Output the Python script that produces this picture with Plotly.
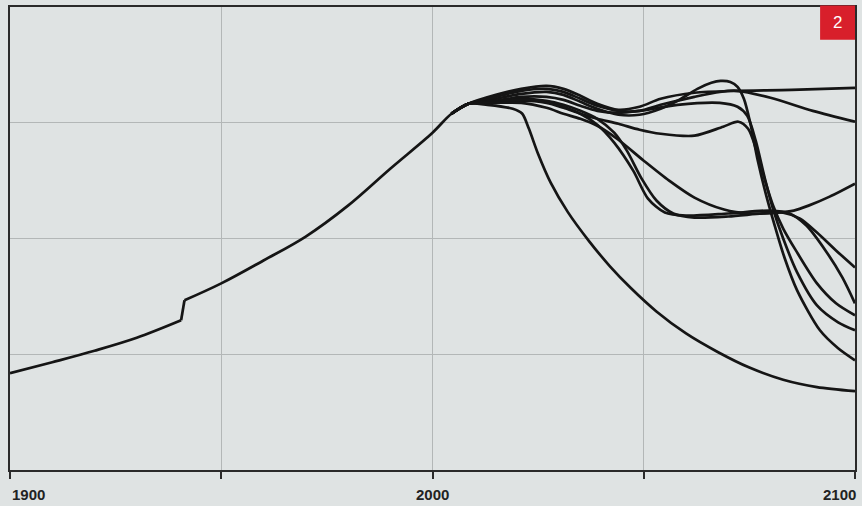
import plotly.graph_objects as go

# Shared history (two pieces around the step near 1941)
trunk_early_years = [1900, 1910, 1920, 1930, 1940.5]
trunk_early_vals = [0.836, 0.931, 1.030, 1.142, 1.293]
trunk_late_years = [1941.3, 1950, 1960, 1970, 1980, 1990, 2000, 2004.5, 2008.5]
trunk_late_vals = [1.466, 1.612, 1.810, 2.017, 2.284, 2.603, 2.914, 3.078, 3.164]

# Scenario branches (after 2008)
a_years = [2015, 2021, 2027, 2031, 2035, 2039, 2044, 2049, 2054, 2062, 2072, 2085, 2100]
a_vals = [3.241, 3.293, 3.319, 3.293, 3.233, 3.164, 3.112, 3.138, 3.207, 3.259, 3.276, 3.284, 3.302]

b_years = [2015, 2021, 2027, 2031, 2035, 2039, 2044, 2049, 2054, 2058, 2062.7, 2066, 2068.2, 2070.5,
           2072.2, 2073.7, 2075.2, 2077, 2079, 2081, 2083.3, 2086.3, 2091.7, 2096, 2100]
b_vals = [3.207, 3.250, 3.267, 3.241, 3.181, 3.121, 3.069, 3.069, 3.121, 3.190, 3.293, 3.345, 3.362, 3.353,
          3.310, 3.207, 3.000, 2.672, 2.371, 2.112, 1.836, 1.552, 1.207, 1.052, 0.948]

c_years = [2015, 2021, 2027, 2031, 2035, 2039, 2044, 2049, 2054, 2062, 2068, 2072, 2080, 2090, 2100]
c_vals = [3.224, 3.276, 3.293, 3.267, 3.207, 3.147, 3.103, 3.103, 3.155, 3.224, 3.267, 3.276, 3.216, 3.103, 3.009]

d_years = [2015, 2021, 2027, 2031, 2035, 2039, 2044, 2049, 2058, 2068, 2072.2, 2074.5, 2076.5, 2078.5,
           2080.5, 2083, 2086.3, 2091, 2096, 2100]
d_vals = [3.190, 3.224, 3.224, 3.198, 3.147, 3.103, 3.086, 3.103, 3.155, 3.172, 3.138, 3.060, 2.845, 2.543,
          2.267, 2.000, 1.707, 1.422, 1.276, 1.207]

e_years = [2015, 2021, 2027, 2031, 2035, 2039, 2044, 2049, 2054, 2062, 2068.8, 2072.4, 2074.7, 2076.7,
           2078.7, 2080.7, 2083, 2086, 2091, 2095.5, 2100]
e_vals = [3.172, 3.190, 3.172, 3.129, 3.078, 3.034, 2.991, 2.940, 2.905, 2.888, 2.966, 3.009, 2.948, 2.759,
          2.500, 2.276, 2.086, 1.897, 1.612, 1.440, 1.336]

f_years = [2015, 2021, 2027, 2031, 2035, 2039, 2043, 2046, 2049.5, 2053, 2057, 2062, 2070, 2078, 2083,
           2087, 2091, 2095.5, 2100]
f_vals = [3.190, 3.207, 3.190, 3.155, 3.103, 3.034, 2.914, 2.759, 2.517, 2.328, 2.216, 2.181, 2.190, 2.216,
          2.224, 2.172, 2.052, 1.897, 1.750]

g_years = [2015, 2021, 2027, 2031, 2035, 2039, 2043, 2047.5, 2051, 2055, 2060, 2070, 2080, 2084.5,
           2088.5, 2093, 2097, 2100]
g_vals = [3.181, 3.198, 3.181, 3.138, 3.078, 2.983, 2.828, 2.586, 2.345, 2.224, 2.198, 2.216, 2.241, 2.216,
          2.112, 1.897, 1.664, 1.440]

h_years = [2015, 2021, 2027, 2031, 2035, 2039, 2044, 2050, 2056, 2062, 2069, 2075, 2081.6, 2085.5, 2089,
           2094, 2100]
h_vals = [3.172, 3.172, 3.129, 3.078, 3.034, 2.974, 2.853, 2.672, 2.500, 2.353, 2.250, 2.216, 2.224, 2.241,
          2.284, 2.362, 2.474]

early_years = [2013, 2019, 2021.2, 2022.8, 2025, 2028, 2032, 2037, 2042, 2047, 2053, 2060, 2067.5, 2075,
               2083, 2091, 2100]
early_vals = [3.155, 3.121, 3.080, 2.950, 2.730, 2.480, 2.230, 1.980, 1.760, 1.570, 1.370, 1.180, 1.020,
              0.885, 0.780, 0.716, 0.681]

x_ticks = [1900, 1950, 2000, 2050, 2100]
y_grid = [1, 2, 3]
x_labels = ["1900", "2000", "2100"]
badge_text = "2"

LINE = dict(color="#151515", width=2.7)
BG = "#dfe3e3"

fig = go.Figure()

fig.add_trace(go.Scatter(x=trunk_early_years, y=trunk_early_vals, mode="lines",
                         line=dict(**LINE, shape="spline", smoothing=1.0), hoverinfo="skip"))
fig.add_trace(go.Scatter(x=[trunk_early_years[-1], trunk_late_years[0]],
                         y=[trunk_early_vals[-1], trunk_late_vals[0]], mode="lines",
                         line=dict(**LINE), hoverinfo="skip"))
fig.add_trace(go.Scatter(x=trunk_late_years, y=trunk_late_vals, mode="lines",
                         line=dict(**LINE, shape="spline", smoothing=1.0), hoverinfo="skip"))

branches = [(a_years, a_vals), (b_years, b_vals), (c_years, c_vals), (d_years, d_vals),
            (e_years, e_vals), (f_years, f_vals), (g_years, g_vals), (h_years, h_vals),
            (early_years, early_vals)]
for yrs, vals in branches:
    fig.add_trace(go.Scatter(x=trunk_late_years[-2:] + yrs, y=trunk_late_vals[-2:] + vals,
                             mode="lines", line=dict(**LINE, shape="spline", smoothing=0.8),
                             hoverinfo="skip"))

# Year labels under the axis
anchors = {"1900": "left", "2000": "center", "2100": "right"}
shifts = {"1900": 0, "2000": 0, "2100": 3}
for lab in x_labels:
    fig.add_annotation(x=int(lab), y=-0.052, xref="x", yref="paper", text="<b>" + lab + "</b>",
                       showarrow=False, xanchor=anchors[lab], yanchor="middle", xshift=shifts[lab],
                       font=dict(family="Liberation Sans, Arial", size=15, color="#222222"))

# Red badge
fig.add_shape(type="rect", xref="paper", yref="paper", x0=0.9587, x1=1.0, y0=0.929, y1=1.003,
              fillcolor="#d81f2b", line=dict(width=0), layer="above")
fig.add_annotation(x=0.9793, y=0.966, xref="paper", yref="paper", text=badge_text, showarrow=False,
                   xanchor="center", yanchor="middle",
                   font=dict(family="Liberation Sans, Arial", size=17, color="white"))

fig.update_layout(
    width=862, height=506,
    margin=dict(l=10, r=5, t=5, b=36),
    paper_bgcolor=BG, plot_bgcolor=BG,
    showlegend=False,
    hovermode=False,
    xaxis=dict(range=[1900, 2100], tickvals=x_ticks, showticklabels=False,
               ticks="outside", ticklen=7, tickwidth=2, tickcolor="#2a2a2a",
               showgrid=True, gridcolor="#b3b7b7", gridwidth=1, zeroline=False,
               showline=True, linecolor="#2a2a2a", linewidth=2, mirror=True),
    yaxis=dict(range=[0, 4], tickvals=y_grid, showticklabels=False, ticks="",
               showgrid=True, gridcolor="#b3b7b7", gridwidth=1, zeroline=False,
               showline=True, linecolor="#2a2a2a", linewidth=2, mirror=True),
)

fig.write_html("out.html", config={"displayModeBar": False},
               post_script="document.body.style.margin='0';document.body.style.background='" + BG + "';")
